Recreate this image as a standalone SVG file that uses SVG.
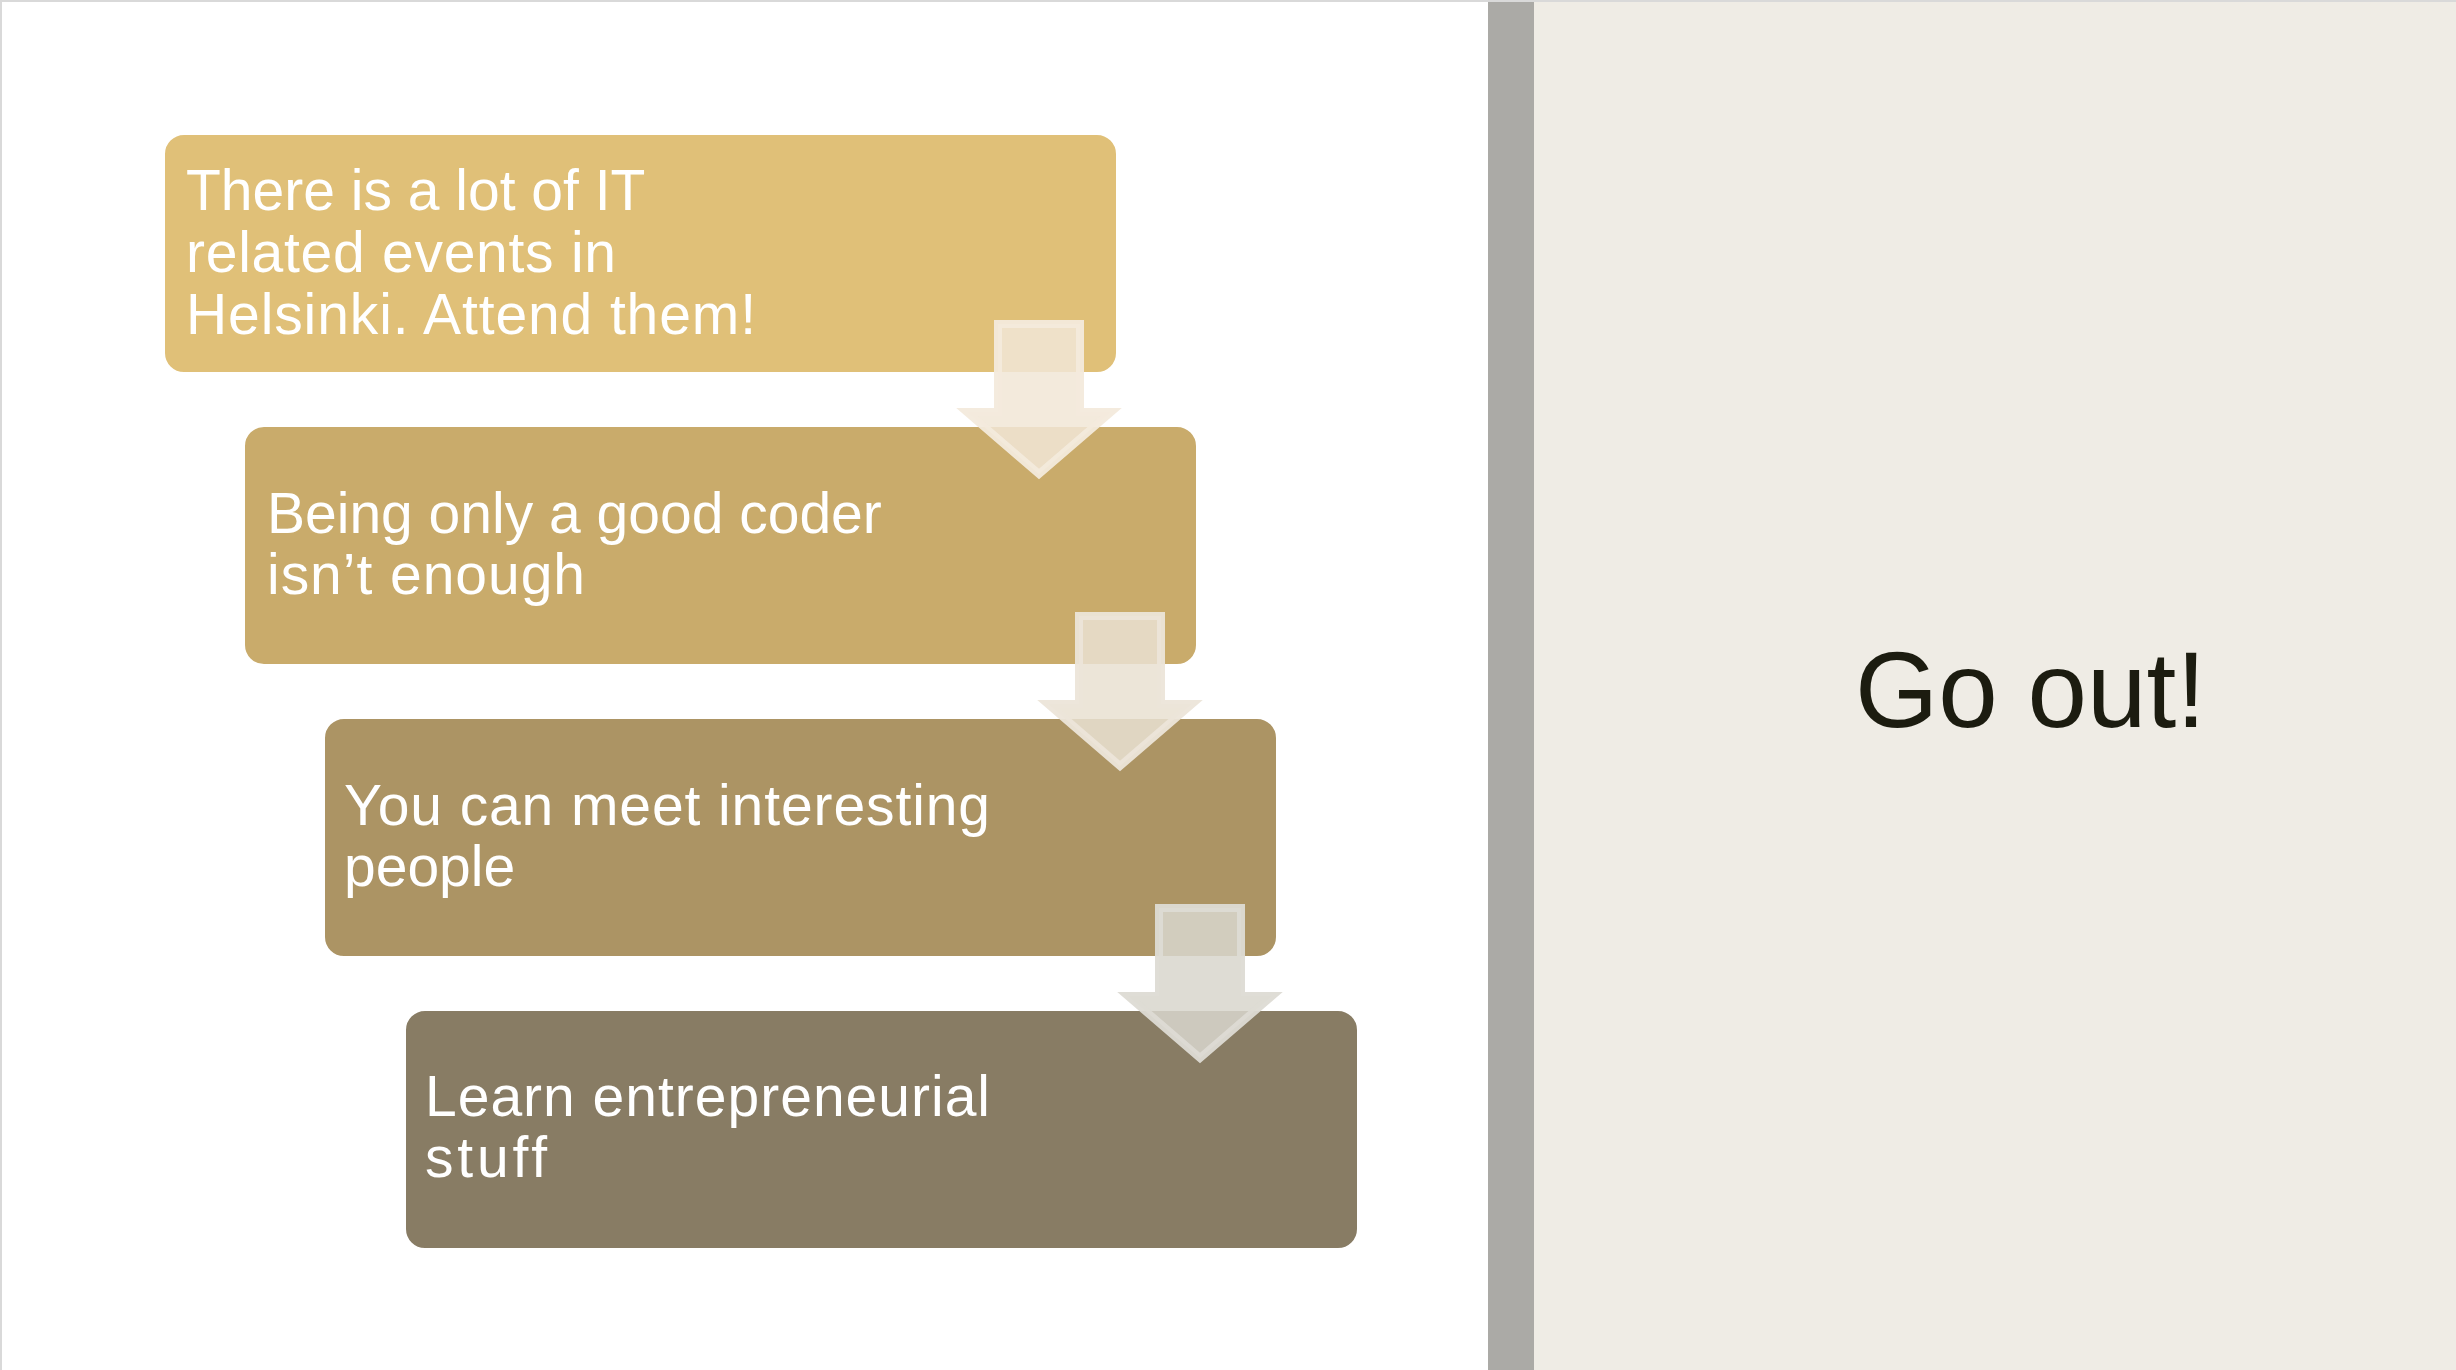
<svg xmlns="http://www.w3.org/2000/svg" width="2456" height="1370" viewBox="0 0 2456 1370">
  <style>
    .box { stroke: #ffffff; stroke-width: 2; }
    .label { font-family: "Liberation Sans", Arial, sans-serif; font-size: 57px; fill: #ffffff; }
    .title { font-family: "Liberation Sans", Arial, sans-serif; font-size: 107px; fill: #1c1c10; }
    .arrow { stroke-width: 8; stroke-linejoin: miter; }
  </style>

  <!-- slide background -->
  <rect x="0" y="0" width="2456" height="1370" fill="#ffffff"/>
  <rect x="0" y="0" width="2456" height="2" fill="#d9d9d9"/>
  <rect x="0" y="0" width="2" height="1370" fill="#d9d9d9"/>

  <!-- right side panel -->
  <rect x="1488" y="2" width="46" height="1368" fill="#abaaa6"/>
  <rect x="1534" y="2" width="922" height="1368" fill="#efece5"/>

  <!-- step boxes -->
  <g id="step1">
    <rect class="box" x="164" y="134" width="953" height="239" rx="20" ry="20" fill="#e0c078"/>
    <text class="label">
      <tspan x="186" y="210">There is a lot of IT</tspan>
      <tspan x="186" y="272" textLength="430" lengthAdjust="spacing">related events in</tspan>
      <tspan x="186" y="334" textLength="570" lengthAdjust="spacing">Helsinki. Attend them!</tspan>
    </text>
  </g>
  <g id="step2">
    <rect class="box" x="244" y="426" width="953" height="239" rx="20" ry="20" fill="#c9ab6b"/>
    <text class="label">
      <tspan x="267" y="533">Being only a good coder</tspan>
      <tspan x="267" y="594" textLength="318" lengthAdjust="spacing">isn’t enough</tspan>
    </text>
  </g>
  <g id="step3">
    <rect class="box" x="324" y="718" width="953" height="239" rx="20" ry="20" fill="#ac9464"/>
    <text class="label">
      <tspan x="344" y="825" textLength="646" lengthAdjust="spacing">You can meet interesting</tspan>
      <tspan x="344" y="886">people</tspan>
    </text>
  </g>
  <g id="step4">
    <rect class="box" x="405" y="1010" width="953" height="239" rx="20" ry="20" fill="#887c64"/>
    <text class="label">
      <tspan x="425" y="1116" textLength="565" lengthAdjust="spacing">Learn entrepreneurial</tspan>
      <tspan x="425" y="1177" textLength="122" lengthAdjust="spacing">stuff</tspan>
    </text>
  </g>

  <!-- down arrows between steps -->
  <g id="connectors">
    <path class="arrow" d="M998,324 H1080 V412 H1111 L1039,474 L967,412 H998 Z"
          fill="#f1e7d6" fill-opacity="0.86" stroke="#f3eadc" stroke-opacity="0.95"/>
    <path class="arrow" d="M1079,616 H1161 V704 H1192 L1120,766 L1048,704 H1079 Z"
          fill="#e9e1d2" fill-opacity="0.86" stroke="#ece5d9" stroke-opacity="0.95"/>
    <path class="arrow" d="M1159,908 H1241 V996 H1272 L1200,1058 L1128,996 H1159 Z"
          fill="#d9d6cd" fill-opacity="0.86" stroke="#dddbd4" stroke-opacity="0.95"/>
  </g>

  <!-- panel title -->
  <g id="title">
    <text class="title" x="1855" y="727">Go out!</text>
  </g>
</svg>
